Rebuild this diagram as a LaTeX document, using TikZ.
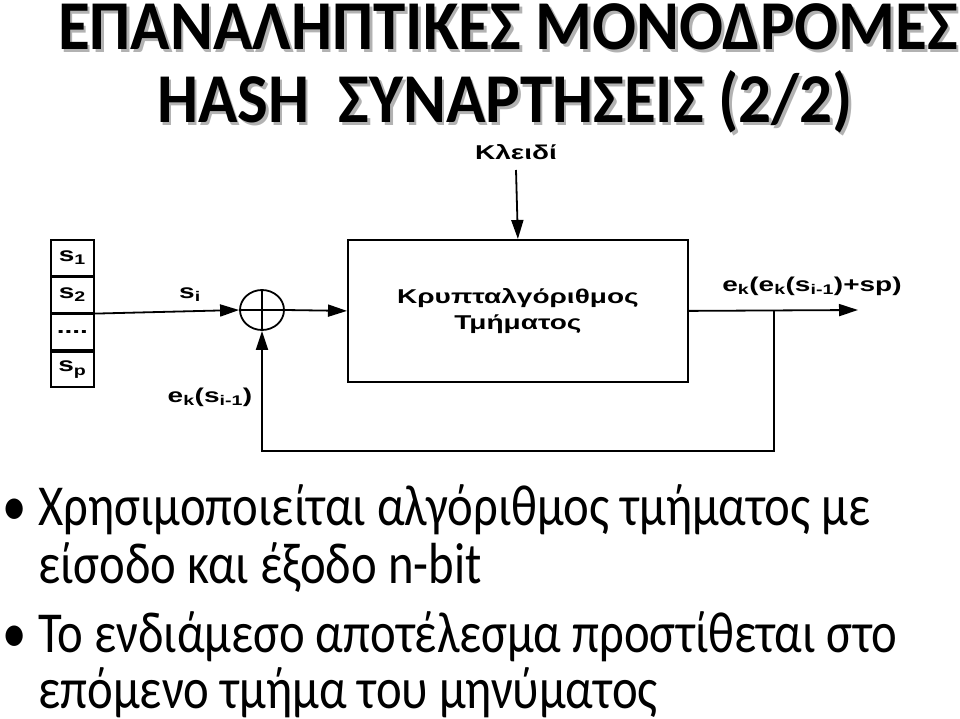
\documentclass[tikz,border=0pt]{standalone}
\usepackage{fontspec}
\setmainfont{Carlito}
\newfontfamily\diagfont[FakeStretch=1.4]{Liberation Sans Bold}
\newfontfamily\titlefont[FakeStretch=0.93]{Carlito Bold}
\newfontfamily\bodyfont[FakeStretch=0.84]{Carlito}
\usetikzlibrary{arrows.meta,shapes.geometric}
\tikzset{
  line/.style={line width=1.8pt},
  arr/.style={line width=1.8pt,-{Triangle[length=19pt,width=12pt]}},
  cell/.style={draw,line width=1.8pt,minimum width=43pt,minimum height=35.5pt,inner sep=0pt,font=\diagfont\fontsize{20}{20}\selectfont},
  lbl/.style={font=\diagfont\fontsize{20}{20}\selectfont,inner sep=0pt},
  title/.style={font=\titlefont\fontsize{70}{70}\selectfont,inner sep=0pt,anchor=base},
  bullettext/.style={font=\bodyfont\fontsize{58}{58}\selectfont,inner sep=0pt,anchor=base west},
}
\begin{document}
\begin{tikzpicture}[x=1pt,y=-1pt]
\useasboundingbox (0,0) rectangle (960,719);
% title with shadow
\node[title,text=black!30] (t1s) at (510.5,52.5) {ΕΠΑΝΑΛΗΠΤΙΚΕΣ ΜΟΝΟΔΡΟΜΕΣ};
\node[title] (t1) at (508,50) {ΕΠΑΝΑΛΗΠΤΙΚΕΣ ΜΟΝΟΔΡΟΜΕΣ};
\node[title,text=black!30] (t2s) at (507.5,125.5) {HASH\ \ ΣΥΝΑΡΤΗΣΕΙΣ (2/2)};
\node[title] (t2) at (505,123) {HASH\ \ ΣΥΝΑΡΤΗΣΕΙΣ (2/2)};
% stack
\node[cell,anchor=north west] (c1) at (50,239) {s\textsubscript{1}};
\node[cell,anchor=north] (c2) at (c1.south) {s\textsubscript{2}};
\node[cell,anchor=north] (c3) at (c2.south) {....};
\node[cell,anchor=north] (c4) at (c3.south) {s\textsubscript{p}};
% xor
\node[draw,ellipse,line width=1.8pt,minimum width=44pt,minimum height=40pt,inner sep=0pt] (x) at (262,310) {};
\draw[line] (x.west) -- (x.east) (x.north) -- (x.south);
% block
\node[draw,line width=1.8pt,minimum width=340pt,minimum height=142pt,anchor=north west,align=center,font=\diagfont\fontsize{20}{26}\selectfont] (b) at (347,239) {Κρυπταλγόριθμος\\Τμήματος};
% key
\node[lbl] (key) at (516,152) {Κλειδί};
\coordinate (keyend) at (516,170);
\draw[arr] (keyend) -- (b.north);
% input
\draw[arr] (c2.south east) -- (x.west);
\node[lbl] (si) at (190,295) {s\textsubscript{i}};
\draw[arr] (x.east) -- (b.west);
% output
\coordinate (outend) at (858,310);
\coordinate (br) at (774,310);
\coordinate (br2) at (774,451);
\coordinate (br3) at (262,451);
\draw[arr] (b.east) -- (outend);
\node[lbl] (eo) at (812,286) {e\textsubscript{k}(e\textsubscript{k}(s\textsubscript{i-1})+sp)};
\draw[arr] (br) -- (br2) -- (br3) -- (x.south);
\node[lbl] (ei) at (210,397) {e\textsubscript{k}(s\textsubscript{i-1})};
% bullets
\node[bullettext] (b1) at (2,525) {•};
\node[bullettext] (l1) at (38,525) {Χρησιμοποιείται αλγόριθμος τμήματος με};
\node[bullettext] (l2) at (38,583) {είσοδο και έξοδο n-bit};
\node[bullettext] (b2) at (2,652) {•};
\node[bullettext] (l3) at (38,652) {Το ενδιάμεσο αποτέλεσμα προστίθεται στο};
\node[bullettext] (l4) at (38,708) {επόμενο τμήμα του μηνύματος};
\end{tikzpicture}
\end{document}
